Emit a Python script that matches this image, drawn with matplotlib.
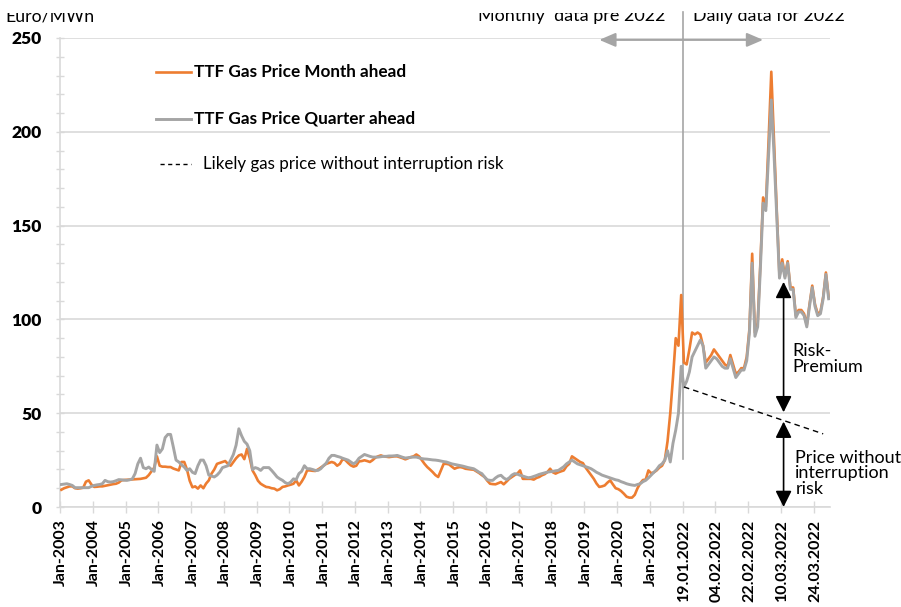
import matplotlib.pyplot as plt
from matplotlib.transforms import Bbox, TransformedBbox

plt.rcParams['font.family'] = ['Lato', 'DejaVu Sans']

ORANGE = '#ED7D31'
GREY = '#A5A5A5'
GRID = '#D9D9D9'

# monthly averages, Jan-2003 .. Dec-2021 (Euro/MWh)
month_ahead = [
    9.2, 10, 10.5, 11, 11, 10, 9.8, 10, 10.3, 13.5, 14.2, 12,            # 2003
    10.7, 10.8, 11, 11, 11.3, 11.6, 11.9, 12.2, 12.4, 13, 14.2, 14.4,    # 2004
    14.5, 14.6, 14.7, 14.8, 14.9, 15, 15.3, 15.6, 17, 19, 21, 27,        # 2005
    22, 21.5, 21.5, 21.3, 21.3, 20.5, 20, 19.5, 24, 24, 20, 14,          # 2006
    10.5, 11, 9.8, 11.5, 10, 12.5, 14.2, 17.8, 20, 23, 23.5, 24,         # 2007
    24.5, 23, 22, 24, 26, 27.5, 28, 25.5, 31, 26, 19.5, 17,              # 2008
    14, 12.4, 11.5, 10.7, 10.5, 10, 9.8, 8.9, 9.5, 10.7, 11, 11.5,       # 2009
    11.9, 12.4, 14.2, 11.5, 13.5, 16, 19.5, 19.5, 19.3, 19.2, 20, 21,    # 2010
    22, 23, 23.5, 24, 23.5, 22, 23, 25.5, 25, 23.5, 22.2, 21.5,          # 2011
    22, 24.3, 24.5, 24.9, 24.5, 24, 25, 26.3, 27, 27.5, 27, 26.8,        # 2012
    26.6, 26.8, 27, 27, 26.5, 26, 25.4, 26, 26.6, 27, 28, 27,            # 2013
    25, 23, 21.3, 20, 18.6, 17, 16, 19.5, 23, 23, 22.7, 21.5,            # 2014
    20.4, 21, 21.3, 21, 20.4, 20.2, 20, 19.9, 19, 18.1, 17, 16,          # 2015
    14, 12.4, 12.2, 12.1, 12.7, 13.3, 12.1, 13.5, 15, 16, 17, 17.8,      # 2016
    19.5, 15, 15, 15, 15, 14.6, 15.5, 16, 16.9, 17.5, 18.6, 20.4,        # 2017
    18.5, 17.8, 18.5, 19, 19.5, 21.7, 23, 27, 26, 25, 24, 23.4,          # 2018
    21, 19, 16.9, 15, 12.5, 10.7, 11, 11.5, 13, 14.2, 12, 10,            # 2019
    9.5, 8.5, 7.1, 5.5, 5, 5, 6.5, 10, 12.6, 14.4, 14.6, 19.5,           # 2020
    18, 18.5, 19.5, 21, 22, 25, 35, 50, 69, 90, 86, 113,                 # 2021
]
quarter_ahead = [
    12, 12.2, 12.4, 12, 11.5, 10.3, 10.3, 10.3, 10.3, 10.3, 10.3, 11,
    11.5, 11.8, 12, 12.4, 14.2, 13.5, 13.3, 13.5, 14, 14.6, 14.5, 14.3,
    14.2, 14.5, 15, 17.8, 23, 26, 21, 20.4, 21.3, 20, 19, 33,
    29, 31, 37, 38.7, 38.7, 32, 25, 24, 22.5, 21.3, 19.5, 20.4,
    18.5, 17.8, 22, 25, 25, 22, 17, 16.5, 16, 17, 18.6, 21,
    21.5, 22, 25, 28, 33, 41.7, 38, 35, 33.5, 30, 20, 21,
    20.5, 19.5, 21, 21, 21, 19.5, 17.8, 16, 15, 14.2, 13, 12.4,
    13.3, 15, 14.6, 17.8, 19, 22, 20.4, 20.4, 20, 19.5, 19.5, 20.4,
    22, 23.4, 26, 27.5, 27.5, 27, 26.6, 26, 25.5, 25, 24, 23,
    24, 26, 27, 28, 27.5, 27, 26.6, 26.6, 26.6, 26.8, 27, 27,
    27.2, 27.2, 27.3, 27.5, 27, 26.5, 26.1, 26.3, 26.5, 26.6, 26.6, 26.2,
    25.8, 25.6, 25.5, 25.3, 25.1, 25, 24.8, 24.5, 24.2, 24, 23.5, 23,
    22.7, 22.4, 22.1, 21.8, 21.4, 21, 20.7, 20.4, 19.5, 18.5, 17.8, 16,
    14.5, 14.2, 14.2, 15.5, 16.5, 16.9, 15.5, 14.6, 15.5, 17, 17.8, 17.5,
    16.9, 16.5, 16, 15.6, 15.8, 16.3, 16.8, 17.4, 17.8, 18.2, 18.6, 18.8,
    19, 19.3, 19.5, 20.5, 21.5, 23, 24, 25, 24, 23, 22.5, 22,
    21.5, 21, 20.4, 19.5, 18.5, 17.8, 17, 16.5, 16, 15.5, 15, 14.5,
    14.2, 13.5, 13, 12.4, 12, 11.7, 11.5, 12, 12.4, 13.5, 14.2, 15.5,
    17, 18.5, 20, 22, 23, 25, 30, 24, 34, 41, 50, 75,
]

# daily settlement from 19.01.2022 (trading days)
daily_month_ahead = [
    77, 76, 84, 93, 92, 93, 92, 86, 77, 79, 81, 84,
    82, 80, 78, 76, 75, 81, 76, 71, 72, 74, 74, 80,
    95, 135, 93, 98, 130, 165, 160, 195, 232, 195, 158, 123,
    132, 123, 131, 117, 117, 102, 105, 105, 103, 97, 108, 118,
    108, 103, 104, 112, 125, 112,
]
daily_quarter_ahead = [
    64, 67, 72, 80, 83, 86, 89, 86, 74, 76, 78, 80,
    79, 77, 75, 74, 74, 79, 74, 69, 71, 73, 73, 78,
    93, 130, 91, 96, 127, 162, 158, 188, 217, 188, 155, 122,
    130, 122, 130, 116, 116, 101, 104, 104, 102, 96, 107, 117,
    107, 102, 103, 111, 124, 111,
]

years = list(range(2003, 2022))
daily_labels = ['19.01.2022', '04.02.2022', '22.02.2022', '10.03.2022', '24.03.2022']
tick_labels = ['Jan-%d' % y for y in years] + daily_labels

ma = month_ahead + daily_month_ahead
qa = quarter_ahead + daily_quarter_ahead
n_month = len(month_ahead)
x = list(range(len(ma)))

fig = plt.figure(figsize=(9.01, 6.07), dpi=100)
ax = fig.add_axes([60 / 901, 100 / 607, 770 / 901, 469 / 607])

ax.plot(x, ma, color=ORANGE, lw=1.9, zorder=3)
ax.plot(x, qa, color=GREY, lw=2.1, zorder=4)

ax.set_xlim(-0.5, len(ma) - 0.5)
ax.set_ylim(0, 250)

# axes styling
for s in ['top', 'right']:
    ax.spines[s].set_visible(False)
for s in ['left', 'bottom']:
    ax.spines[s].set_color(GRID)
    ax.spines[s].set_linewidth(1.2)
ax.set_yticks(range(0, 251, 50))
ax.set_yticks(range(0, 251, 10), minor=True)
ax.yaxis.grid(True, color=GRID, lw=1.2, zorder=0)
ax.set_axisbelow(True)
ax.tick_params(axis='y', which='both', direction='inout', length=6, color=GRID, width=1)
ax.tick_params(axis='y', which='major', pad=10, labelsize=12.5)
for lab in ax.get_yticklabels():
    lab.set_fontweight('heavy')

ax.set_xticks(range(0, len(ma), 12))
ax.set_xticklabels(tick_labels, rotation=90, fontweight='bold', fontsize=11.5)
ax.set_xticks([i - 0.5 for i in range(0, len(ma), 12)], minor=True)
ax.tick_params(axis='x', which='major', length=0, pad=9)
ax.tick_params(axis='x', which='minor', direction='inout', length=9, color=GRID, width=1)

# legend, drawn by hand like the original
ax.plot([34.5, 47.5], [232, 232], color=ORANGE, lw=1.9)
ax.text(48.5, 232, 'TTF Gas Price Month ahead', fontsize=12.3, fontweight='bold', va='center')
ax.plot([34.5, 47.5], [207, 207], color=GREY, lw=2.1)
ax.text(48.5, 207, 'TTF Gas Price Quarter ahead', fontsize=12.3, fontweight='bold', va='center')
ax.plot([36, 47.5], [183, 183], color='black', lw=1, ls=(0, (3, 2.5)))
ax.text(52, 183, 'Likely gas price without interruption risk', fontsize=12.2, va='center')

# split monthly / daily
ax.plot([n_month - 0.5, n_month - 0.5], [25.5, 264], color=GREY, lw=1.2, clip_on=False, zorder=2)
ax.annotate('', xy=(197, 249), xytext=(257, 249),
            arrowprops=dict(arrowstyle='<|-|>,head_length=0.7,head_width=0.3',
                            color=GREY, lw=1.5, mutation_scale=14, shrinkA=0, shrinkB=0))

# likely price without interruption risk
ax.plot([n_month, 279], [64, 39], color='black', lw=1, ls=(0, (4, 3)), clip_on=False, zorder=5)
arrow_kw = dict(arrowstyle='<|-|>,head_length=0.7,head_width=0.35',
                color='black', lw=1.2, mutation_scale=14, shrinkA=0, shrinkB=0)
ax.annotate('', xy=(264.5, 120), xytext=(264.5, 50.5), arrowprops=arrow_kw, annotation_clip=False)
ax.annotate('', xy=(264.5, 45.5), xytext=(264.5, 0), arrowprops=arrow_kw, annotation_clip=False)
ax.text(267.8, 79, 'Risk-\nPremium', fontsize=13, va='center', ha='left', linespacing=1.0)
ax.text(268.8, 18, 'Price without\ninterruption\nrisk', fontsize=13, va='center', ha='left',
        linespacing=0.95)

# header texts, cut at the top like the source image
clip = TransformedBbox(Bbox([[0, 0], [1, 1 - 13 / 607]]), fig.transFigure)
for tx, xpos, fs in [('Euro/MWh', 5, 12.7), ('Monthly  data pre 2022', 478, 13),
                     ('Daily data for 2022', 693, 12.8)]:
    t = fig.text(xpos / 901, 1 - 21 / 607, tx, fontsize=fs, va='baseline', clip_on=True)
    t.set_clip_box(clip)

fig.savefig('out.png', dpi=100)
